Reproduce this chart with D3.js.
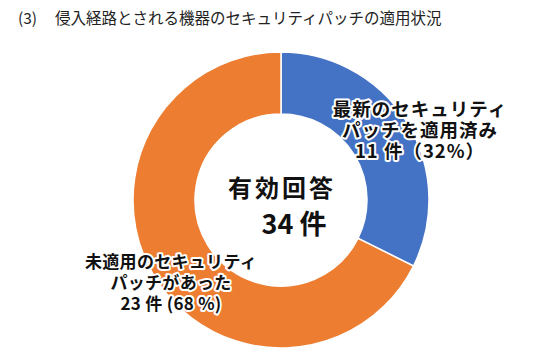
<!DOCTYPE html>
<html><head><meta charset="utf-8">
<script src="https://cdn.jsdelivr.net/npm/d3@7"></script>
<style>
html,body{margin:0;padding:0;background:#fff;}
svg{display:block;}
.lbl{font-family:"Noto Sans CJK JP","Noto Sans",sans-serif;font-weight:700;fill:#111;paint-order:stroke;stroke:#fff;stroke-width:4px;stroke-linejoin:round;}
</style></head>
<body>
<svg id="c" width="543" height="360"></svg>
<script>
const title = "(3)";
const titleText = "侵入経路とされる機器のセキュリティパッチの適用状況";
const categories = ["最新のセキュリティパッチを適用済み", "未適用のセキュリティパッチがあった"];
const values = [11, 23];
const colors = ["#4472C4", "#ED7D31"];
const labelLines = [
  ["最新のセキュリティ", "パッチを適用済み", "11 件（32%）"],
  ["未適用のセキュリティ", "パッチがあった", "23 件 (68 %)"]
];
const centerLines = ["有効回答", "34 件"];

const svg = d3.select("#c");
svg.append("text").attr("x",18).attr("y",24)
  .attr("font-family","'Noto Sans CJK JP',sans-serif").attr("font-size",15.5).attr("fill","#222").text(title);
svg.append("text").attr("x",55).attr("y",24)
  .attr("font-family","'Noto Sans CJK JP',sans-serif").attr("font-size",15.5).attr("fill","#222").text(titleText);

const cx = 281, cy = 200, R = 148, r = 86;
const pie = d3.pie().sort(null).value(d=>d)(values);
const arc = d3.arc().innerRadius(r).outerRadius(R);
const g = svg.append("g").attr("transform",`translate(${cx},${cy})`);
g.selectAll("path").data(pie).join("path")
  .attr("d",arc).attr("fill",(d,i)=>colors[i])
  .attr("stroke","#fff").attr("stroke-width",1.5);

// labels
const labelPos = [{x:420,y:110,fs:18.5,ls:1},{x:171,y:262,fs:17,ls:0.3}];
labelLines.forEach((lines,i)=>{
  const p = labelPos[i];
  lines.forEach((s,j)=>{
    svg.append("text").attr("class","lbl").attr("text-anchor","middle")
      .attr("font-size",p.fs).attr("letter-spacing",p.ls)
      .attr("x",p.x).attr("y",p.y + j*21).attr("dy","0.35em").text(s);
  });
});
svg.append("text").attr("class","lbl").attr("text-anchor","middle")
  .attr("x",282).attr("y",189).attr("dy","0.35em").attr("font-size",24).attr("letter-spacing",3)
  .text(centerLines[0]);
svg.append("text").attr("class","lbl").attr("text-anchor","middle")
  .attr("x",294).attr("y",225).attr("dy","0.35em").attr("font-size",27)
  .text(centerLines[1]);
</script>
</body></html>
